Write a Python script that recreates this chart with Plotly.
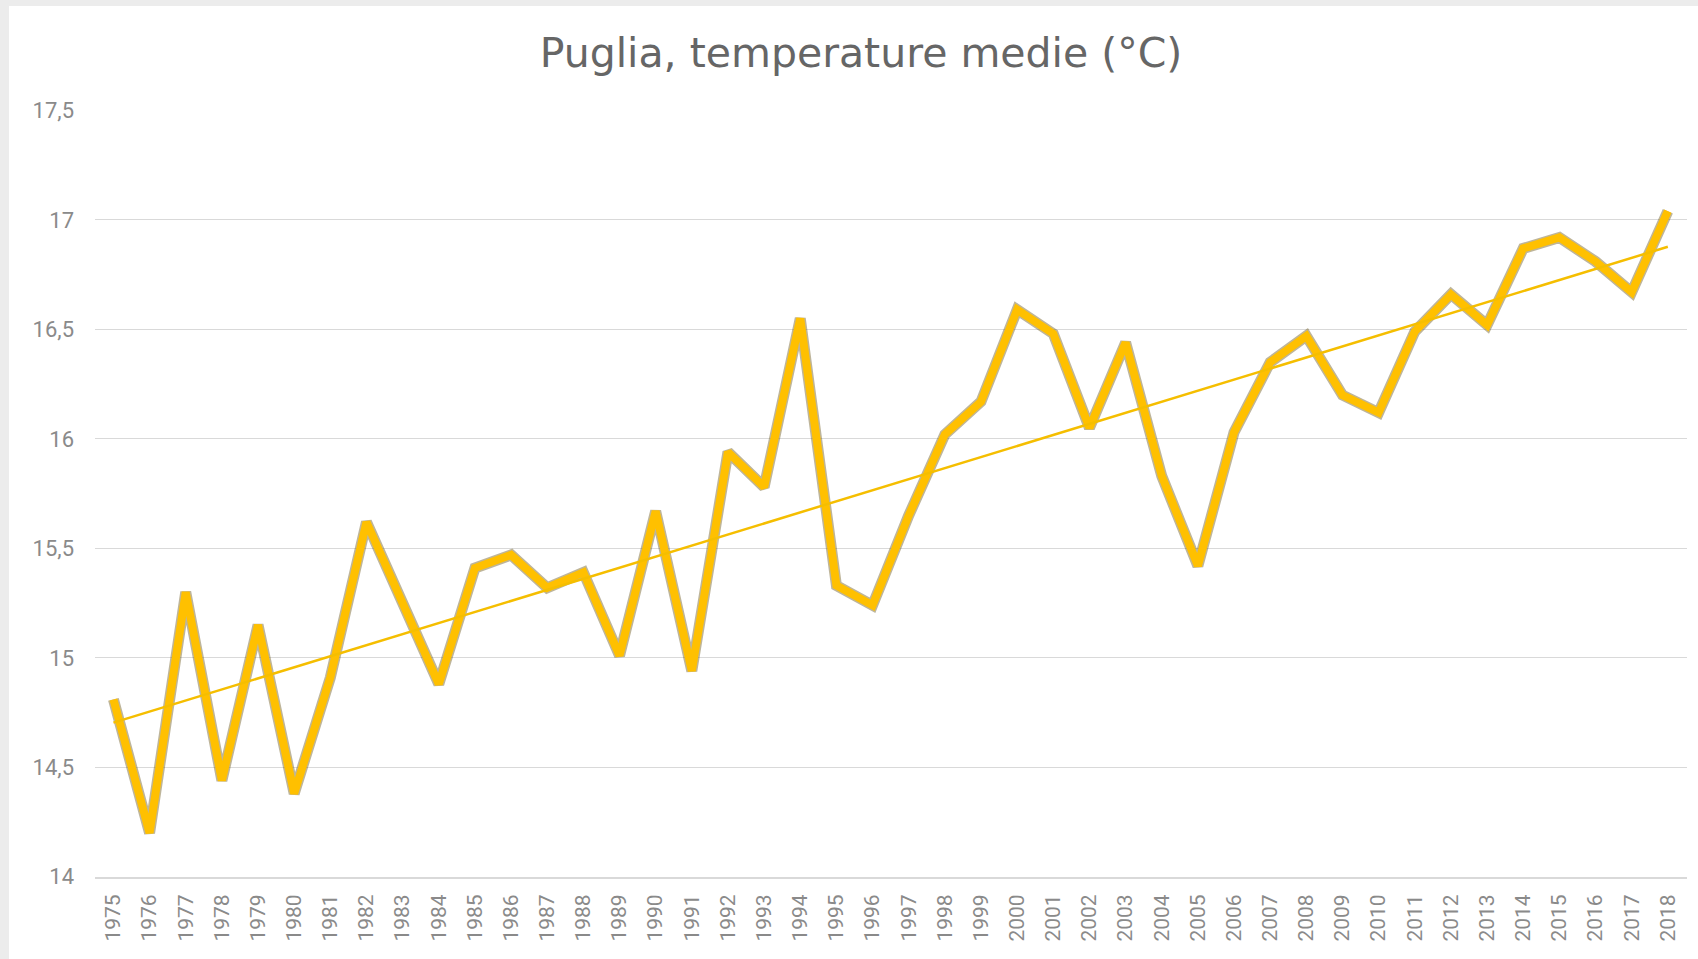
import numpy as np
import plotly.graph_objects as go

years = list(range(1975, 2019))
temps = [14.81, 14.20, 15.30, 14.44, 15.15, 14.38, 14.91, 15.62, 15.25, 14.88,
         15.41, 15.47, 15.32, 15.39, 15.01, 15.67, 14.94, 15.94, 15.78, 16.55,
         15.33, 15.24, 15.65, 16.02, 16.17, 16.59, 16.48, 16.05, 16.44, 15.83,
         15.42, 16.03, 16.35, 16.47, 16.20, 16.12, 16.49, 16.66, 16.52, 16.87,
         16.92, 16.81, 16.67, 17.04]
y_ticks = [14, 14.5, 15, 15.5, 16, 16.5, 17, 17.5]
title_text = "Puglia, temperature medie (°C)"

slope, intercept = np.polyfit(years, temps, 1)
trend = [slope * yr + intercept for yr in years]

W, H = 1698, 959
ml, mr, mt, mb = 95, 11, 110, 82
pw, ph = W - ml - mr, H - mt - mb

fig = go.Figure()
# shadow / outline
fig.add_trace(go.Scatter(x=years, y=temps, mode="lines",
                         line=dict(color="rgba(110,90,30,0.45)", width=11),
                         hoverinfo="skip", showlegend=False))
fig.add_trace(go.Scatter(x=years, y=temps, mode="lines",
                         line=dict(color="#FFC000", width=8),
                         showlegend=False))
fig.add_trace(go.Scatter(x=years, y=trend, mode="lines",
                         line=dict(color="#F5BE00", width=2.5),
                         showlegend=False))


def px_to_xp(px):
    return (px - ml) / pw


def py_to_yp(py):
    return 1 + (mt - py) / ph


shapes = [
    dict(type="rect", xref="paper", yref="paper",
         x0=px_to_xp(0), x1=px_to_xp(9), y0=py_to_yp(H), y1=py_to_yp(0),
         fillcolor="#ececec", line=dict(width=0), layer="below"),
    dict(type="rect", xref="paper", yref="paper",
         x0=px_to_xp(0), x1=px_to_xp(W), y0=py_to_yp(6), y1=py_to_yp(0),
         fillcolor="#ececec", line=dict(width=0), layer="below"),
]

y_font = dict(family="Roboto", size=22, color="#8a8a8a")
x_font = dict(family="Roboto", size=21, color="#8a8a8a")

fig.update_layout(
    width=W, height=H,
    margin=dict(l=ml, r=mr, t=mt, b=mb),
    paper_bgcolor="white", plot_bgcolor="white",
    separators=",.",
    shapes=shapes,
    title=dict(text=title_text, x=861 / W, xref="container", xanchor="center",
               y=1 - 53 / H, yref="container", yanchor="middle",
               font=dict(family="DejaVu Sans", size=41, color="#666666")),
    xaxis=dict(range=[1974.49, 2018.53], tickmode="array", tickvals=years,
               ticktext=[str(y) for y in years], tickangle=-90,
               showgrid=False, zeroline=False, showline=True,
               linecolor="#d9d9d9", linewidth=2, ticks="",
               ticklabelstandoff=7, tickfont=x_font),
    yaxis=dict(range=[13.999, 17.502], tickmode="array", tickvals=y_ticks,
               showgrid=True, gridcolor="#d9d9d9", gridwidth=1,
               zeroline=False, showline=False, ticks="",
               ticklabelstandoff=20, tickfont=y_font),
)

fig.write_html("out.html", config={"displayModeBar": False},
               post_script="document.body.style.margin='0';")
